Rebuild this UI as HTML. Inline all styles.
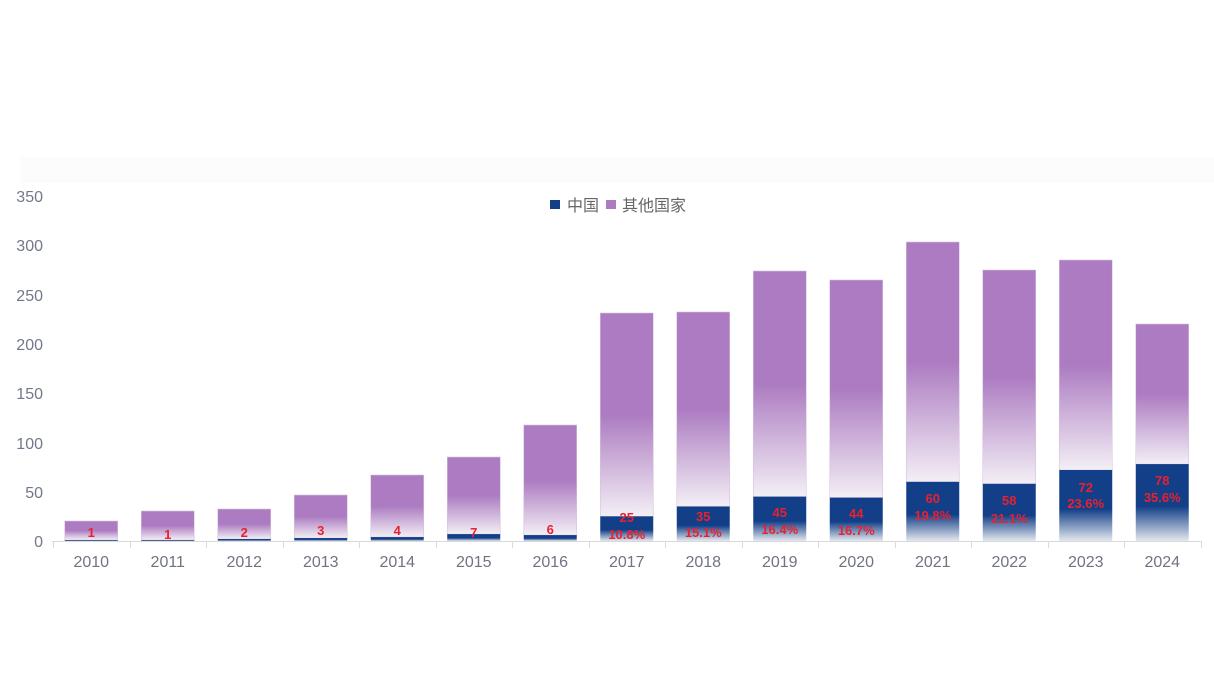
<!DOCTYPE html>
<html><head><meta charset="utf-8"><style>
html,body{margin:0;padding:0;background:#fff;}
svg{display:block;}
text{font-family:"Liberation Sans","Noto Sans CJK SC",sans-serif;}
</style></head><body>
<svg width="1214" height="698" viewBox="0 0 1214 698" xmlns="http://www.w3.org/2000/svg">
<defs>
<linearGradient id="gp" x1="0" y1="0" x2="0" y2="1">
<stop offset="0" stop-color="#AC7BC1"/><stop offset="0.5" stop-color="#AC7BC1"/><stop offset="1" stop-color="#F3EFF5"/>
</linearGradient>
<linearGradient id="gb" x1="0" y1="0" x2="0" y2="1">
<stop offset="0" stop-color="#133F88"/><stop offset="0.55" stop-color="#133F88"/><stop offset="1" stop-color="#E4E8EF"/>
</linearGradient>
</defs>
<rect x="20" y="157" width="1194" height="26" fill="#fcfcfc"/>
<g fill="#727889" font-size="16" text-anchor="end">
<text x="43" y="202">350</text><text x="43" y="251">300</text><text x="43" y="301">250</text>
<text x="43" y="350">200</text><text x="43" y="399">150</text><text x="43" y="449">100</text>
<text x="43" y="498">50</text><text x="43" y="547">0</text>
</g>
<g id="bars"></g>
<line x1="52" y1="541.5" x2="1201" y2="541.5" stroke="#d9d9d9" stroke-width="1"/>
<g id="ticks" stroke="#d9d9d9" stroke-width="1"></g>
<g id="years" fill="#6f7482" font-size="16" text-anchor="middle"></g>
<g id="labels" fill="#E8212E" font-size="13" font-weight="bold" text-anchor="middle"></g>
<rect x="550" y="200" width="10" height="9" fill="#133F88"/>
<text x="567" y="211" font-size="16" fill="#666">中国</text>
<rect x="606" y="200" width="10" height="9" fill="#AC7BC1"/>
<text x="622" y="211" font-size="16" fill="#666">其他国家</text>
<script>
(function(){
var ns="http://www.w3.org/2000/svg";
var tops=[521,511,509,495,475,457,425,313,312,271,280,242,270,260,324];
var cn=[1,1,2,3,4,7,6,25,35,45,44,60,58,72,78];
var pct=["","","","","","","","10.8%","15.1%","16.4%","16.7%","19.8%","21.1%","23.6%","35.6%"];
var l1=[532,534,532,530,530,532,529,517,516,512,513,498,500,487,480];
var l2=[0,0,0,0,0,0,0,534,532,529,530,515,518,503,497];
var base=541,cw=76.5,x0=53,bw=53;
var bars=document.getElementById("bars"),ticks=document.getElementById("ticks"),years=document.getElementById("years"),labels=document.getElementById("labels");
function el(n,a,p,t){var e=document.createElementNS(ns,n);for(var k in a)e.setAttribute(k,a[k]);if(t!==undefined)e.textContent=t;p.appendChild(e);return e;}
for(var i=0;i<15;i++){
 var cx=x0+cw*(i+0.5),bx=cx-bw/2;
 var ct=base-cn[i]*0.986;
 el("rect",{x:bx,y:tops[i],width:bw,height:ct-tops[i],fill:"url(#gp)",stroke:"#d6c2e0","stroke-width":0.6},bars);
 el("rect",{x:bx,y:ct,width:bw,height:base-ct,fill:"url(#gb)"},bars);
 el("text",{x:cx,y:567},years,String(2010+i));
 el("text",{x:cx,y:l1[i]+5},labels,String(cn[i]));
 if(pct[i]) el("text",{x:cx,y:l2[i]+5},labels,pct[i]);
}
for(var j=0;j<=15;j++){var tx=Math.round(x0+cw*j)+0.5;el("line",{x1:tx,y1:541,x2:tx,y2:548},ticks);}
})();
</script>
</svg>
</body></html>
